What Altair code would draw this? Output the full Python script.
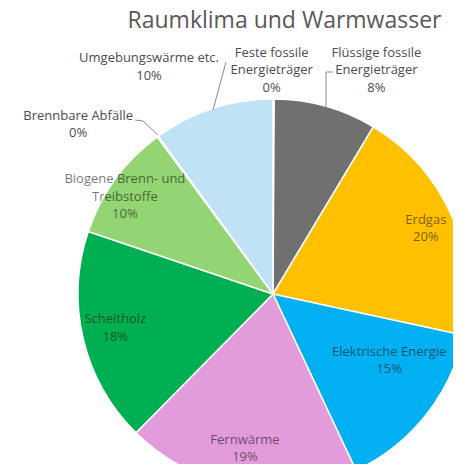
import altair as alt
import pandas as pd

title_text = "Raumklima und Warmwasser"
categories = ["Feste fossile Energieträger", "Flüssige fossile Energieträger", "Erdgas",
              "Elektrische Energie", "Fernwärme", "Scheitholz",
              "Biogene Brenn- und Treibstoffe", "Brennbare Abfälle", "Umgebungswärme etc."]
label_names = ["Feste fossile\nEnergieträger", "Flüssige fossile\nEnergieträger", "Erdgas",
               "Elektrische Energie", "Fernwärme", "Scheitholz",
               "Biogene Brenn- und\nTreibstoffe", "Brennbare Abfälle", "Umgebungswärme etc."]
shares = [0.1, 8.5, 19.8, 14.6, 19.4, 17.8, 9.7, 0.1, 10.0]
colors = ["#808080", "#707070", "#FFC000", "#00B0F0", "#E29BDB", "#00B050",
          "#92D572", "#A5A5A5", "#BFE2F4"]

df = pd.DataFrame({
    "category": categories,
    "share": shares,
    "order": list(range(len(categories))),
    "text": [f"{n}\n{round(s)}%" for n, s in zip(label_names, shares)],
})

CX, CY, R = 265, 286, 195
FONT = "Open Sans"
LH = 17.5

base = alt.Chart(df)

arcs = base.mark_arc(outerRadius=R, stroke="white", strokeWidth=1.5, clip=True).encode(
    theta=alt.Theta("share:Q", stack=True),
    order=alt.Order("order:Q"),
    color=alt.Color("category:N", scale=alt.Scale(domain=categories, range=colors), legend=None),
    x=alt.value(CX), y=alt.value(CY),
)

# label placement style: radius, dx, dy (block centre), inside?
label_style = {
    "Feste fossile Energieträger": (220, -2, -4, False),
    "Flüssige fossile Energieträger": (220, 44, -12, False),
    "Erdgas": (160, 6, -2, True),
    "Elektrische Energie": (160, -9, -33, True),
    "Fernwärme": (160, -1, -3, True),
    "Scheitholz": (160, -2, -3, True),
    "Biogene Brenn- und Treibstoffe": (160, -19, -3, True),
    "Brennbare Abfälle": (220, -65, 8, False),
    "Umgebungswärme etc.": (220, -56, -18, False),
}
text_by_cat = dict(zip(df["category"], df["text"]))

label_layers = []
for cat, (rad, dx, dy, inside) in label_style.items():
    n_lines = text_by_cat[cat].count("\n") + 1
    layer = base.transform_window(
        cum="sum(share)", sort=[alt.SortField("order")], frame=[None, 0]
    ).transform_calculate(
        mid="datum.cum - datum.share / 2"
    ).transform_filter(
        alt.datum.category == cat
    ).mark_text(
        radius=rad, dx=dx, dy=dy - (n_lines - 1) * LH / 2, font=FONT, fontSize=13,
        lineBreak="\n", lineHeight=LH, align="center", baseline="middle",
        color="#000000" if inside else "#4d4d4d", opacity=0.52 if inside else 1.0,
    ).encode(
        theta=alt.Theta("mid:Q", stack=False, scale=alt.Scale(domain=[0, 100])),
        text="text:N",
        x=alt.value(CX), y=alt.value(CY),
    )
    label_layers.append(layer)

title = alt.Chart(pd.DataFrame({"t": [title_text]})).mark_text(
    font=FONT, fontSize=23, color="#595959", align="center", baseline="alphabetic"
).encode(text="t:N", x=alt.value(276.5), y=alt.value(20))

leader_segments = [
    (218, 54, 205, 102),
    (325, 64, 318, 64),
    (318, 64, 318, 100),
    (127, 112, 135, 113),
    (135, 113, 150, 127),
]
leaders = [
    alt.Chart(pd.DataFrame({"a": [0]})).mark_rule(color="#8c8c8c", strokeWidth=1).encode(
        x=alt.value(x1), y=alt.value(y1), x2=alt.value(x2), y2=alt.value(y2)
    )
    for (x1, y1, x2, y2) in leader_segments
]

chart = alt.layer(arcs, *label_layers, *leaders, title).resolve_scale(
    theta="independent"
).properties(
    width=445, height=456, padding=0, autosize=alt.AutoSizeParams(type="none"),
    background="white",
).configure_view(stroke=None)

chart.save("out.html", embed_options={"renderer": "svg", "actions": False})
